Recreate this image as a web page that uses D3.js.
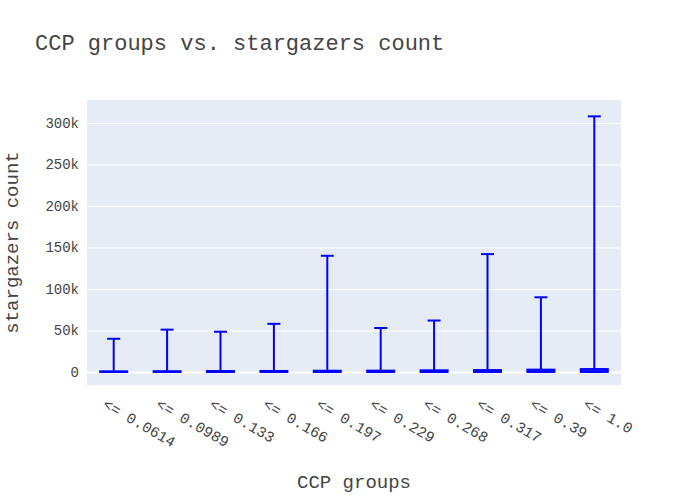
<!DOCTYPE html>
<head>
<meta charset="utf-8">
<style>
body { margin: 0; background: #fff; }
text { font-family: "Liberation Mono", "DejaVu Sans Mono", monospace; fill: #444; }
</style>
</head>
<body>
<script src="https://d3js.org/d3.v7.min.js"></script>
<script>
var groups = ["<= 0.0614", "<= 0.0989", "<= 0.133", "<= 0.166", "<= 0.197", "<= 0.229", "<= 0.268", "<= 0.317", "<= 0.39", "<= 1.0"];
var mins = [0, 0, 0, 0, 0, 0, 0, 0, 0, 0];
var q1s = [20, 25, 30, 35, 40, 45, 50, 60, 70, 90];
var medians = [150, 200, 250, 300, 350, 400, 450, 550, 650, 900];
var q3s = [700, 900, 1100, 1200, 1500, 1600, 2000, 2300, 2800, 3500];
var maxs = [40000, 51000, 48500, 58000, 140000, 53000, 62000, 142000, 90000, 308000];
var yTicks = [0, 50000, 100000, 150000, 200000, 250000, 300000];

var width = 700, height = 500;
var pLeft = 87, pRight = 621, pTop = 100, pBottom = 385;

var svg = d3.select("body").append("svg").attr("width", width).attr("height", height);

var x = d3.scaleBand().domain(groups).range([pLeft, pRight]);
var y = d3.scaleLinear().domain([-15700, 327700]).range([pBottom, pTop]);

svg.append("rect").attr("x", pLeft).attr("y", pTop)
    .attr("width", pRight - pLeft).attr("height", pBottom - pTop).attr("fill", "#e5ecf6");

var ya = svg.append("g").attr("transform", "translate(" + pLeft + ",0)")
    .call(d3.axisLeft(y).tickValues(yTicks).tickSize(-(pRight - pLeft)).tickPadding(8)
        .tickFormat(function (d) { return d === 0 ? "0" : (d / 1000) + "k"; }));
ya.select(".domain").remove();
ya.selectAll("line").attr("stroke", "#fff").attr("stroke-width", function (d) { return d === 0 ? 2 : 1; });
ya.selectAll("text").style("font-size", "14px");

var xa = svg.append("g").attr("transform", "translate(0," + pBottom + ")")
    .call(d3.axisBottom(x).tickSize(0));
xa.select(".domain").remove();
xa.selectAll("text").style("font-size", "15px")
    .attr("text-anchor", "start").attr("dy", 0).attr("y", 0)
    .attr("transform", "translate(-12,22) rotate(30)");

var bw = 27, cw = 13;
groups.forEach(function (g, i) {
    var cx = x(g) + x.bandwidth() / 2;
    var gg = svg.append("g").attr("stroke", "blue").attr("stroke-width", 2);
    gg.append("line").attr("x1", cx).attr("x2", cx).attr("y1", y(q3s[i])).attr("y2", y(maxs[i]));
    gg.append("line").attr("x1", cx - cw / 2).attr("x2", cx + cw / 2).attr("y1", y(maxs[i])).attr("y2", y(maxs[i]));
    gg.append("line").attr("x1", cx - cw / 2).attr("x2", cx + cw / 2).attr("y1", y(mins[i])).attr("y2", y(mins[i]));
    gg.append("rect").attr("x", cx - bw / 2).attr("width", bw)
        .attr("y", y(q3s[i])).attr("height", y(q1s[i]) - y(q3s[i]))
        .attr("fill", "rgba(0,0,255,0.5)");
    gg.append("line").attr("x1", cx - bw / 2).attr("x2", cx + bw / 2).attr("y1", y(medians[i])).attr("y2", y(medians[i]));
});

svg.append("text").attr("x", 35).attr("y", 50).style("font-size", "22px").text("CCP groups vs. stargazers count");
svg.append("text").attr("x", (pLeft + pRight) / 2).attr("y", 488).attr("text-anchor", "middle")
    .style("font-size", "19px").text("CCP groups");
svg.append("text").attr("transform", "translate(18," + (pTop + pBottom) / 2 + ") rotate(-90)")
    .attr("text-anchor", "middle").style("font-size", "19px").text("stargazers count");
</script>
</body>
